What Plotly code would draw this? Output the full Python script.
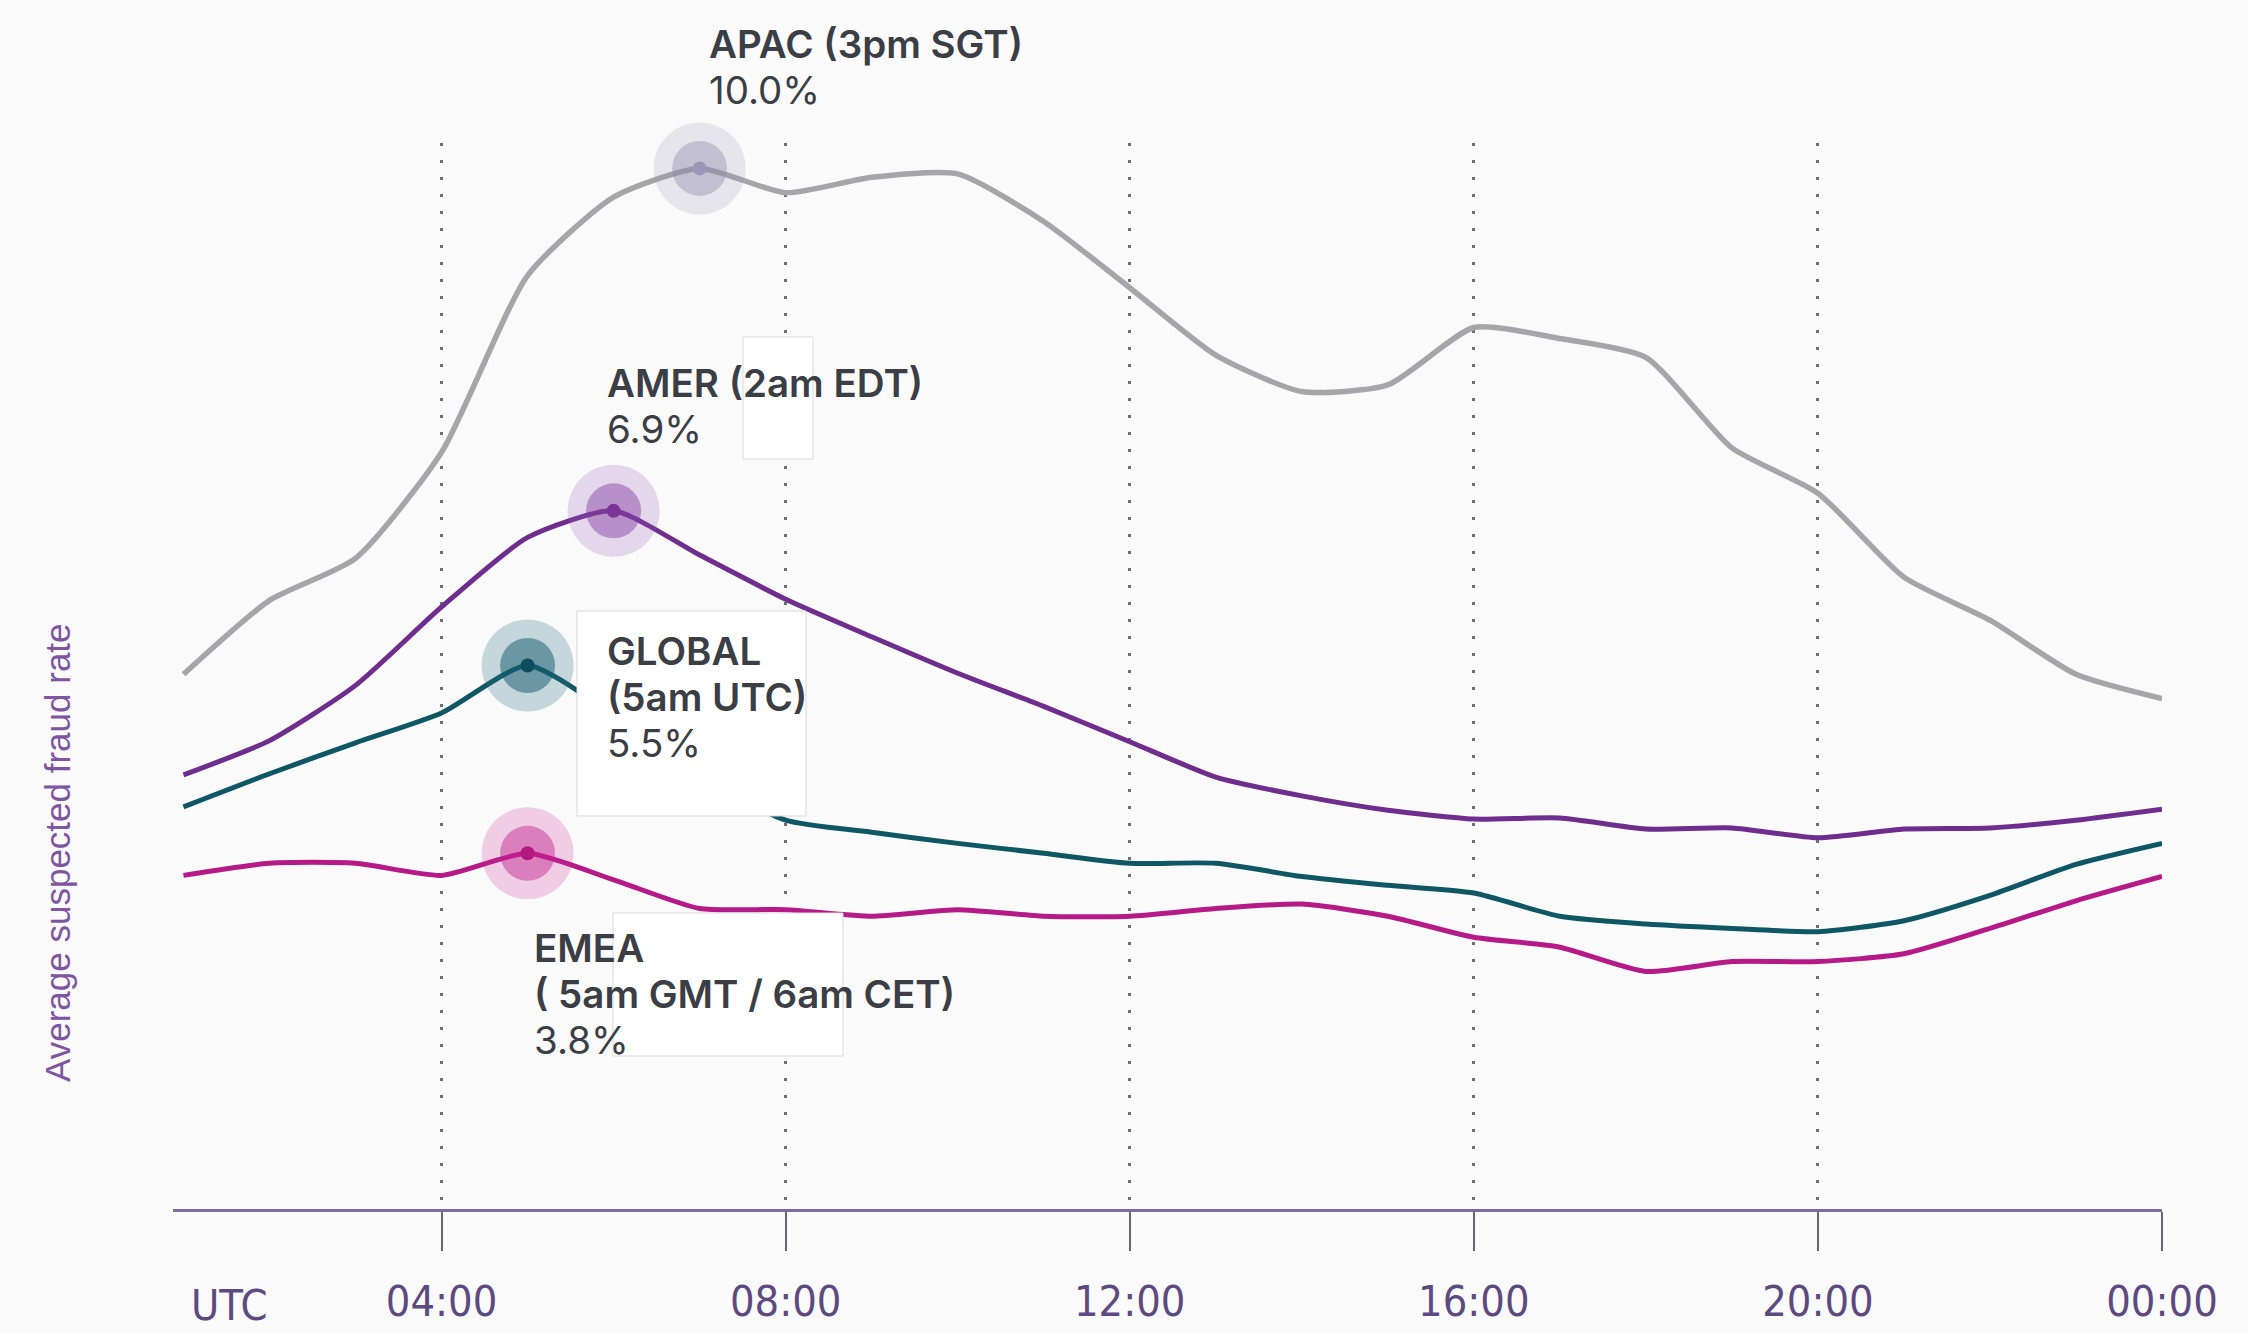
import plotly.graph_objects as go

# Hour of day (UTC) for each sample
hours = list(range(1, 25))

# Average suspected fraud rate (%) by region, hourly
apac = [5.42, 6.09, 6.47, 7.43, 9.03, 9.74, 10.0, 9.78, 9.92, 9.95, 9.52, 8.92,
        8.31, 7.98, 8.04, 8.56, 8.46, 8.29, 7.47, 7.06, 6.30, 5.91, 5.42, 5.20]
amer = [4.51, 4.82, 5.32, 6.03, 6.66, 6.90, 6.50, 6.10, 5.76, 5.43, 5.13, 4.81,
        4.49, 4.32, 4.19, 4.11, 4.12, 4.02, 4.03, 3.94, 4.02, 4.03, 4.10, 4.20]
glob = [4.22, 4.52, 4.80, 5.07, 5.50, 5.05, 4.50, 4.10, 3.99, 3.89, 3.80, 3.71,
        3.71, 3.59, 3.51, 3.44, 3.23, 3.16, 3.12, 3.09, 3.19, 3.42, 3.70, 3.89]
emea = [3.60, 3.71, 3.71, 3.60, 3.80, 3.56, 3.30, 3.29, 3.23, 3.29, 3.23, 3.23,
        3.30, 3.34, 3.23, 3.04, 2.95, 2.73, 2.82, 2.82, 2.89, 3.12, 3.37, 3.59]

# Peak labels (local time of the peak), one entry per text line
peak_titles = {
    "APAC": ["APAC (3pm SGT)"],
    "AMER": ["AMER (2am EDT)"],
    "GLOBAL": ["GLOBAL", "(5am UTC)"],
    "EMEA": ["EMEA", "( 5am GMT / 6am CET)"],
}

tick_vals = [4, 8, 12, 16, 20, 24]
tick_text = ["04:00", "08:00", "12:00", "16:00", "20:00", "00:00"]

# ---- layout geometry (pixels) ----
W, H = 2248, 1333
PL, PR, PT, PB = 173, 2162, 143, 1209


def px(x):
    return (x - PL) / (PR - PL)


def py(y):
    return (PB - y) / (PB - PT)


series = [
    # name, values, line colour, halo outer, halo mid, dot, line width
    ("APAC", apac, "#a6a5a9", "rgba(150,146,178,0.20)", "rgba(140,134,172,0.40)", "#9c97b8", 5.5),
    ("AMER", amer, "#6f2e8e", "rgba(150,90,180,0.22)", "rgba(128,58,160,0.45)", "#7a3596", 5),
    ("GLOBAL", glob, "#0f5764", "rgba(40,112,132,0.25)", "rgba(18,88,108,0.50)", "#0c4e5e", 5),
    ("EMEA", emea, "#b51a88", "rgba(205,45,155,0.22)", "rgba(192,30,140,0.45)", "#b3187f", 5),
]

fig = go.Figure()

for name, vals, col, _o, _m, _d, lw in series:
    fig.add_trace(go.Scatter(
        x=hours, y=vals, mode="lines", name=name,
        line=dict(color=col, width=lw, shape="spline", smoothing=0.6),
        cliponaxis=False, hoverinfo="skip", showlegend=False,
    ))

# Peak halos: three concentric circles on each region's maximum
peaks = {}
for name, vals, col, outer, mid, dot, _w in series:
    i = max(range(len(vals)), key=lambda k: vals[k])
    peaks[name] = (hours[i], vals[i])
    for size, c in ((92, outer), (55, mid), (14, dot)):
        fig.add_trace(go.Scatter(
            x=[hours[i]], y=[vals[i]], mode="markers",
            marker=dict(size=size, color=c, line=dict(width=0)),
            cliponaxis=False, hoverinfo="skip", showlegend=False,
        ))

# White label panels sitting over the lines
panels = [
    (743, 337, 813, 459),
    (577, 611, 806, 816),
    (613, 913, 843, 1056),
]
for x0, y0, x1, y1 in panels:
    fig.add_shape(type="rect", xref="paper", yref="paper",
                  x0=px(x0), x1=px(x1), y0=py(y1), y1=py(y0),
                  fillcolor="#ffffff", line=dict(color="#d9d9d9", width=1),
                  layer="above")

# Label blocks: left edge and centre of the first line, in pixels
LINE_GAP = 46
label_pos = {
    "APAC": (707, 44),
    "AMER": (605, 383),
    "GLOBAL": (605, 651),
    "EMEA": (532, 948),
}
for name, (lx, ly) in label_pos.items():
    v = peaks[name][1]
    lines = [(t, 600) for t in peak_titles[name]] + [(f"{v:.1f}%", 400)]
    for k, (txt, wt) in enumerate(lines):
        fig.add_annotation(
            xref="paper", yref="paper", x=px(lx), y=py(ly + k * LINE_GAP),
            xanchor="left", yanchor="middle", align="left", showarrow=False,
            text=txt,
            font=dict(family="Inter, Open Sans, sans-serif", size=38.5,
                      color="#3b3e45", weight=wt),
        )

# Axis start label and y-axis caption
axis_font = dict(family="Liberation Sans Narrow, Arial Narrow, DejaVu Sans Condensed, sans-serif",
                 size=43, color="#5d4a80")
fig.add_annotation(xref="paper", yref="paper", x=px(229), y=py(1305),
                   xanchor="center", yanchor="middle", showarrow=False,
                   text="UTC", font=axis_font)
fig.add_annotation(xref="paper", yref="paper", x=px(57), y=py(853),
                   xanchor="center", yanchor="middle", showarrow=False,
                   textangle=-90, text="Average suspected fraud rate",
                   font=dict(family="Liberation Sans, Arial, sans-serif", size=35, color="#7d55a0"))

fig.update_xaxes(
    range=[0.878, 24], tickvals=tick_vals, ticktext=tick_text,
    showgrid=True, gridcolor="#6f6f6f", gridwidth=2.5, griddash="3px,14px",
    showline=True, linecolor="#7e6c9e", linewidth=2.5,
    ticks="outside", ticklen=39, tickwidth=2, tickcolor="#6b6679",
    tickfont=axis_font, ticklabelstandoff=14, zeroline=False,
    automargin=False,
)
fig.update_yaxes(range=[0.58, 10.23], visible=False, automargin=False)

fig.update_layout(
    width=W, height=H,
    margin=dict(l=PL, r=W - PR, t=PT, b=H - PB, autoexpand=False),
    paper_bgcolor="#fafafa", plot_bgcolor="#fafafa",
    showlegend=False,
)

fig.write_html("out.html")
